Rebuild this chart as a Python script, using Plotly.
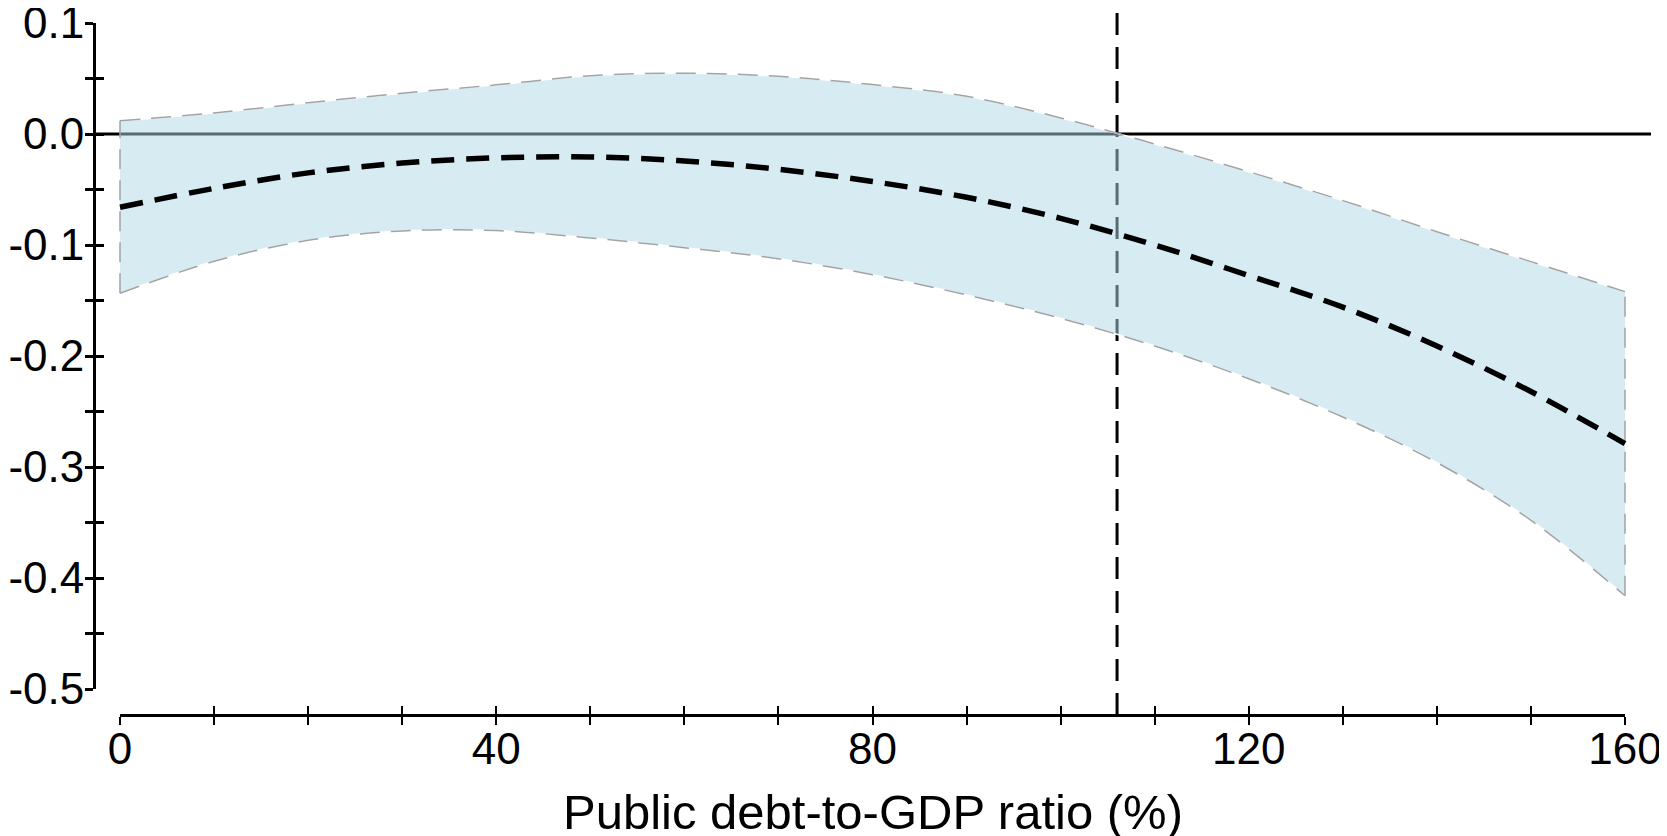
import plotly.graph_objects as go

# ---------------- data ----------------
debt = [0, 10, 20, 30, 40, 50, 60, 70, 80, 90, 100, 110, 120, 130, 140, 150, 160]
effect = [-0.066, -0.049, -0.035, -0.0262, -0.0215, -0.0207, -0.0243, -0.0318, -0.0428,
          -0.057, -0.076, -0.100, -0.1275, -0.156, -0.191, -0.232, -0.279]
ci_upper = [0.0119, 0.019, 0.0282, 0.0367, 0.0443, 0.0525, 0.0548, 0.052, 0.0445,
            0.034, 0.0145, -0.009, -0.034, -0.060, -0.088, -0.115, -0.142]
ci_lower = [-0.1435, -0.1147, -0.0958, -0.0873, -0.087, -0.0937, -0.1024, -0.1124, -0.1267,
            -0.145, -0.166, -0.191, -0.2205, -0.255, -0.296, -0.348, -0.416]
threshold = 106

x_tickvals = [0, 10, 20, 30, 40, 50, 60, 70, 80, 90, 100, 110, 120, 130, 140, 150, 160]
x_ticktext = ["0", "", "", "", "40", "", "", "", "80", "", "", "", "120", "", "", "", "160"]
y_tickvals = [0.1, 0.05, 0.0, -0.05, -0.1, -0.15, -0.2, -0.25, -0.3, -0.35, -0.4, -0.45, -0.5]
y_ticktext = ["0.1", "", "0.0", "", "-0.1", "", "-0.2", "", "-0.3", "", "-0.4", "", "-0.5"]
x_title = "Public debt-to-GDP ratio (%)"

# ---------------- layout geometry (page pixels) ----------------
PAGE_OFF = 8                     # default body margin of the html page
W, H = 1667 - PAGE_OFF, 836 - PAGE_OFF
X0_PX, X1_PX = 120, 1625         # x = 0 and x = 160 on the bottom axis
XAX_Y_PX = 715                   # vertical position of the bottom axis line
YAX_X_PX = 94                    # horizontal position of the left axis line
YT_PX, YB_PX = 23, 689           # y = 0.1 and y = -0.5
PLOT_R_PX = 1651                 # right end of the zero line
TITLE_Y_PX = 812

X_MIN, X_MAX = 0, 160
Y_MIN, Y_MAX = -0.5, 0.1
xs = (X1_PX - X0_PX) / (X_MAX - X_MIN)
ys = (YB_PX - YT_PX) / (Y_MAX - Y_MIN)
main_xrange = [X_MIN - (X0_PX - YAX_X_PX) / xs, X_MAX + (PLOT_R_PX - X1_PX) / xs]
main_yrange = [Y_MIN - (XAX_Y_PX - YB_PX) / ys, Y_MAX + (YT_PX - PAGE_OFF) / ys]


def px(v):
    return (v - PAGE_OFF) / W


def py(v):
    return 1 - (v - PAGE_OFF) / H


FONT = "Liberation Sans, Arial, sans-serif"
band_fill = "rgba(173,216,230,0.5)"
edge_grey = "#a3a3a3"

fig = go.Figure()

# band
fig.add_trace(go.Scatter(x=debt, y=ci_lower, mode="lines",
                         line=dict(color="white", width=1.5, shape="spline"),
                         hoverinfo="skip", showlegend=False))
fig.add_trace(go.Scatter(x=debt, y=ci_upper, mode="lines", fill="tonexty", fillcolor=band_fill,
                         line=dict(color="white", width=1.5, shape="spline"),
                         hoverinfo="skip", showlegend=False))
# band outline (dashed grey)
for ys_ in (ci_lower, ci_upper):
    fig.add_trace(go.Scatter(x=debt, y=ys_, mode="lines",
                             line=dict(color=edge_grey, width=1.5, dash="20px,11px", shape="spline"),
                             hoverinfo="skip", showlegend=False))
for i in (0, -1):
    fig.add_trace(go.Scatter(x=[debt[i], debt[i]], y=[ci_lower[i], ci_upper[i]], mode="lines",
                             line=dict(color=edge_grey, width=1.5, dash="20px,11px"),
                             hoverinfo="skip", showlegend=False))
# point estimate
fig.add_trace(go.Scatter(x=debt, y=effect, mode="lines",
                         line=dict(color="black", width=5.5, dash="23px,12px", shape="spline"),
                         hoverinfo="skip", showlegend=False))

# dummy traces so that the visible axis pairs are drawn
for xa, ya in (("x2", "y2"), ("x3", "y3")):
    fig.add_trace(go.Scatter(x=[X_MIN], y=[Y_MIN], xaxis=xa, yaxis=ya, mode="lines",
                             line=dict(width=0), hoverinfo="skip", showlegend=False))

# reference lines (beneath the band)
fig.add_shape(type="line", xref="x domain", yref="y", x0=0, x1=1, y0=0, y1=0,
              line=dict(color="black", width=3), layer="below")
fig.add_shape(type="line", xref="x", yref="y domain", x0=threshold, x1=threshold, y0=0, y1=1,
              line=dict(color="black", width=3, dash="22px,12px"), layer="below")

tick_font = dict(family=FONT, size=44, color="black")
common_x = dict(range=[X_MIN, X_MAX], domain=[px(X0_PX), px(X1_PX)], anchor="free",
                position=py(XAX_Y_PX), showgrid=False, zeroline=False, showline=True,
                linecolor="black", linewidth=3, tickvals=x_tickvals, ticklen=8,
                tickwidth=2.2, tickcolor="black", fixedrange=True,
                ticklabeloverflow="allow")
common_y = dict(range=[Y_MIN, Y_MAX], domain=[py(YB_PX), py(YT_PX)], anchor="free",
                position=px(YAX_X_PX), showgrid=False, zeroline=False, showline=True,
                linecolor="black", linewidth=3, tickvals=y_tickvals, ticklen=8,
                tickwidth=2.5, tickcolor="black", fixedrange=True,
                ticklabeloverflow="allow")

fig.update_layout(
    width=W, height=H,
    margin=dict(l=0, r=0, t=0, b=0, autoexpand=False),
    paper_bgcolor="white", plot_bgcolor="rgba(0,0,0,0)",
    xaxis=dict(range=main_xrange, domain=[px(YAX_X_PX), px(PLOT_R_PX)], visible=False,
               fixedrange=True),
    yaxis=dict(range=main_yrange, domain=[py(XAX_Y_PX), 1], visible=False, fixedrange=True),
    xaxis2=dict(common_x, ticks="outside", ticktext=x_ticktext, tickfont=tick_font,
                ticklabelstandoff=-14),
    yaxis2=dict(common_y, ticks="outside", ticktext=y_ticktext, tickfont=tick_font,
                ticklabelstandoff=-8),
    xaxis3=dict(common_x, ticks="inside", showticklabels=False),
    yaxis3=dict(common_y, ticks="inside", showticklabels=False),
    showlegend=False,
    annotations=[dict(text=x_title, xref="x2 domain", yref="paper", x=0.5, y=py(TITLE_Y_PX),
                      xanchor="center", yanchor="middle", showarrow=False,
                      font=dict(family=FONT, size=49, color="black"))],
)

fig.write_html("out.html")
